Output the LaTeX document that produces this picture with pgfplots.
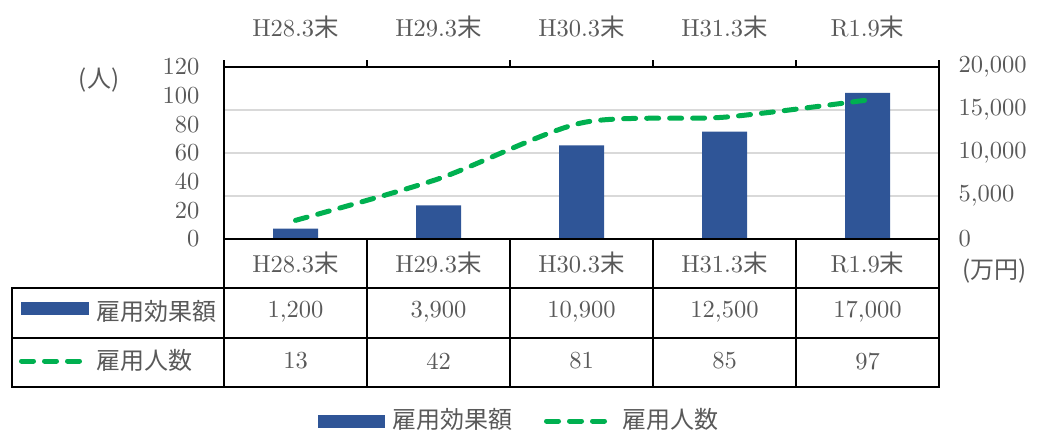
\documentclass[border=0pt]{standalone}
\usepackage{fontspec}
\setmainfont{lmroman10-regular.otf}
\usepackage{pgfplots}
\pgfplotsset{compat=1.18}
\newfontfamily\cjk{Noto Sans CJK JP}
\definecolor{barblue}{HTML}{2F5597}
\definecolor{lgreen}{HTML}{00B050}
\definecolor{txt}{HTML}{595959}
\definecolor{gridc}{HTML}{D9D9D9}
\newcommand{\fs}{\fontsize{24.5}{28}\selectfont}
\newcommand{\fj}{\fontsize{24}{28}\selectfont\cjk}
\begin{document}
\begin{tikzpicture}[x=1pt,y=1pt]
\path[use as bounding box] (0,0) rectangle (1037,432);
% right axis: bars (drawn first)
\begin{axis}[
  at={(224pt,193pt)}, anchor=south west,
  width=715pt, height=172pt, scale only axis,
  xmin=-0.5, xmax=4.5, ymin=0, ymax=20000,
  axis line style={line width=2pt, black},
  xtick={0,1,2,3,4},
  xticklabels={H28.3{\cjk 末},H29.3{\cjk 末},H30.3{\cjk 末},H31.3{\cjk 末},R1.9{\cjk 末}},
  xticklabel pos=top,
  xticklabel style={anchor=base, yshift=31pt},
  x tick style={draw=none},
  ytick={0,5000,10000,15000,20000},
  ytick pos=right, yticklabel pos=right,
  y tick style={draw=none},
  yticklabel style={xshift=16pt},
  scaled y ticks=false,
  /pgf/number format/1000 sep={,},
  /pgf/number format/assume math mode=true,
  ymajorgrids, grid style={gridc, line width=1.5pt},
  tick label style={font=\fs, text=txt},
]
\addplot[ybar, bar width=45pt, fill=barblue, draw=none] coordinates {(0,1200) (1,3900) (2,10900) (3,12500) (4,17000)};
\end{axis}
% left axis: line
\begin{axis}[
  at={(224pt,193pt)}, anchor=south west,
  width=715pt, height=172pt, scale only axis,
  xmin=-0.5, xmax=4.5, ymin=0, ymax=120,
  axis line style={line width=2pt, black},
  xtick={-0.5,0.5,1.5,2.5,3.5,4.5},
  xticklabels={},
  xtick pos=top,
  tick align=outside,
  major tick length=7pt,
  x tick style={line width=1.5pt, black},
  ytick={0,20,40,60,80,100,120},
  ytick pos=left, yticklabel pos=left,
  y tick style={draw=none},
  yticklabel style={xshift=-14pt},
  /pgf/number format/assume math mode=true,
  tick label style={font=\fs, text=txt},
]
\addplot[lgreen, line width=5pt, dash pattern=on 12pt off 11pt, line cap=round, smooth, tension=0.45] coordinates {(0,13) (1,42) (2,81) (3,85) (4,97)};
\end{axis}
% axis unit labels
\node[font=\fj, text=txt] at (99,352) {(人)};
\node[font=\fj, text=txt, anchor=west, inner sep=0pt] at (962,161) {(万円)};
% data table
\begin{scope}[line width=2pt, black]
\draw (224,193) -- (224,45.5);
\draw (939,193) -- (939,45.5);
\foreach \x in {367,510,653,796} { \draw[line width=1.5pt] (\x,193) -- (\x,144); \draw (\x,144) -- (\x,45.5); }
\draw (11,144) -- (940,144);
\draw (11,94.5) -- (940,94.5);
\draw (11,45.5) -- (940,45.5);
\draw (12,144) -- (12,45.5);
\end{scope}
\foreach \x/\h/\a/\b in {295.5/H28.3/1{,}200/13, 438.5/H29.3/3{,}900/42, 581.5/H30.3/10{,}900/81, 724.5/H31.3/12{,}500/85, 867.5/R1.9/17{,}000/97} {
  \node[font=\fs, text=txt] at (\x,169) {\h{\cjk 末}};
  \node[font=\fs, text=txt] at (\x,120) {\a};
  \node[font=\fs, text=txt] at (\x,71) {\b};
}
% row legends
\fill[barblue] (21,117) rectangle (89,130);
\node[font=\fj, text=txt, anchor=west, inner sep=0pt] at (96,121) {雇用効果額};
\draw[lgreen, line width=5pt, line cap=round, dash pattern=on 12pt off 11pt] (21.5,71) -- (82,71);
\node[font=\fj, text=txt, anchor=west, inner sep=0pt] at (96,72) {雇用人数};
% bottom legend
\fill[barblue] (318,4) rectangle (385,17);
\node[font=\fj, text=txt, anchor=west, inner sep=0pt] at (392,12.5) {雇用効果額};
\draw[lgreen, line width=5pt, line cap=round, dash pattern=on 12pt off 11pt] (546.5,11) -- (607,11);
\node[font=\fj, text=txt, anchor=west, inner sep=0pt] at (622,12.5) {雇用人数};
\end{tikzpicture}
\end{document}
